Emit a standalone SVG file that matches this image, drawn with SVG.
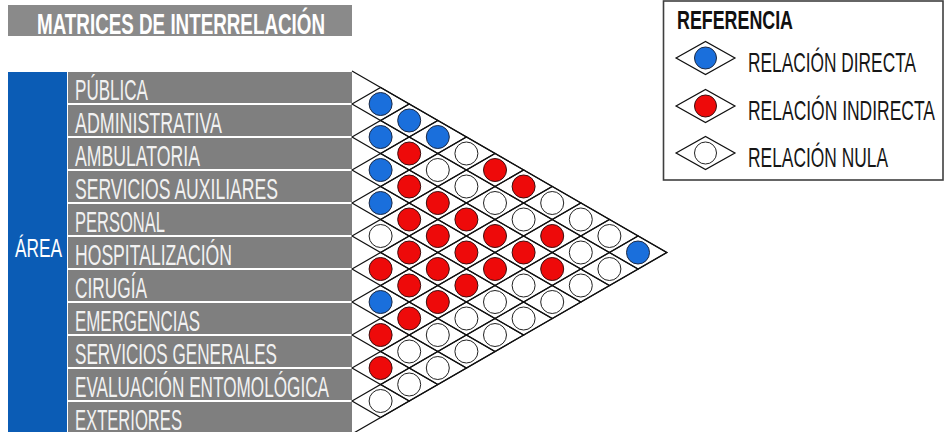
<svg xmlns="http://www.w3.org/2000/svg" xmlns:xlink="http://www.w3.org/1999/xlink" width="945" height="432" viewBox="0 0 945 432">
<style>
text{font-family:"Liberation Sans",Arial,sans-serif}
.row{fill:#7f7f7f}
.lbl{fill:#f2f2f2;font-size:30px}
.leg{fill:#161616;font-size:28px}
.dia{fill:none;stroke:#111;stroke-width:1.2}
.B{fill:#1a6fdc;stroke:#1d2a44;stroke-width:1}
.R{fill:#ee0a0a;stroke:#3a1010;stroke-width:1}
.W{fill:#fff;stroke:#222;stroke-width:1}
</style>
<defs>
<polygon id="d" points="-28.6,0 0,-16.5 28.6,0 0,16.5"/>
</defs>
<rect width="945" height="432" fill="#fff"/>
<g id="title">
<rect x="8" y="5" width="344" height="31" fill="#8a8a8a"/>
<text x="37" y="33.5" font-size="29" font-weight="bold" fill="#fff" textLength="288" lengthAdjust="spacingAndGlyphs">MATRICES DE INTERRELACIÓN</text>
</g>
<g id="area">
<rect x="8" y="72" width="59" height="360" fill="#0b5cb5"/>
<text x="15" y="256.5" font-size="26" fill="#fff" textLength="47" lengthAdjust="spacingAndGlyphs">ÁREA</text>
</g>
<g id="rows">
<g id="r0"><rect class="row" x="68" y="72" width="284" height="31"/><text class="lbl" x="75" y="100" textLength="73" lengthAdjust="spacingAndGlyphs">PÚBLICA</text></g>
<g id="r1"><rect class="row" x="68" y="105" width="284" height="31"/><text class="lbl" x="75" y="133" textLength="147" lengthAdjust="spacingAndGlyphs">ADMINISTRATIVA</text></g>
<g id="r2"><rect class="row" x="68" y="138" width="284" height="31"/><text class="lbl" x="75" y="166" textLength="125" lengthAdjust="spacingAndGlyphs">AMBULATORIA</text></g>
<g id="r3"><rect class="row" x="68" y="171" width="284" height="31"/><text class="lbl" x="75" y="199" textLength="203" lengthAdjust="spacingAndGlyphs">SERVICIOS AUXILIARES</text></g>
<g id="r4"><rect class="row" x="68" y="204" width="284" height="31"/><text class="lbl" x="75" y="232" textLength="90" lengthAdjust="spacingAndGlyphs">PERSONAL</text></g>
<g id="r5"><rect class="row" x="68" y="237" width="284" height="31"/><text class="lbl" x="75" y="265" textLength="157" lengthAdjust="spacingAndGlyphs">HOSPITALIZACIÓN</text></g>
<g id="r6"><rect class="row" x="68" y="270" width="284" height="31"/><text class="lbl" x="75" y="298" textLength="72" lengthAdjust="spacingAndGlyphs">CIRUGÍA</text></g>
<g id="r7"><rect class="row" x="68" y="303" width="284" height="31"/><text class="lbl" x="75" y="331" textLength="125" lengthAdjust="spacingAndGlyphs">EMERGENCIAS</text></g>
<g id="r8"><rect class="row" x="68" y="336" width="284" height="31"/><text class="lbl" x="75" y="364" textLength="202" lengthAdjust="spacingAndGlyphs">SERVICIOS GENERALES</text></g>
<g id="r9"><rect class="row" x="68" y="369" width="284" height="31"/><text class="lbl" x="75" y="397" textLength="254" lengthAdjust="spacingAndGlyphs">EVALUACIÓN ENTOMOLÓGICA</text></g>
<g id="r10"><rect class="row" x="68" y="402" width="284" height="31"/><text class="lbl" x="75" y="430" textLength="107" lengthAdjust="spacingAndGlyphs">EXTERIORES</text></g>
</g>
<g id="connectors">
<polyline class="dia" points="352,71 667,252.5 352,434"/>
<use href="#d" class="dia" x="380.6" y="104"/>
<use href="#d" class="dia" x="409.2" y="120.5"/>
<use href="#d" class="dia" x="380.6" y="137"/><use href="#d" class="dia" x="437.8" y="137"/>
<use href="#d" class="dia" x="409.2" y="153.5"/><use href="#d" class="dia" x="466.4" y="153.5"/>
<use href="#d" class="dia" x="380.6" y="170"/><use href="#d" class="dia" x="437.8" y="170"/><use href="#d" class="dia" x="495" y="170"/>
<use href="#d" class="dia" x="409.2" y="186.5"/><use href="#d" class="dia" x="466.4" y="186.5"/><use href="#d" class="dia" x="523.6" y="186.5"/>
<use href="#d" class="dia" x="380.6" y="203"/><use href="#d" class="dia" x="437.8" y="203"/><use href="#d" class="dia" x="495" y="203"/><use href="#d" class="dia" x="552.2" y="203"/>
<use href="#d" class="dia" x="409.2" y="219.5"/><use href="#d" class="dia" x="466.4" y="219.5"/><use href="#d" class="dia" x="523.6" y="219.5"/><use href="#d" class="dia" x="580.8" y="219.5"/>
<use href="#d" class="dia" x="380.6" y="236"/><use href="#d" class="dia" x="437.8" y="236"/><use href="#d" class="dia" x="495" y="236"/><use href="#d" class="dia" x="552.2" y="236"/><use href="#d" class="dia" x="609.4" y="236"/>
<use href="#d" class="dia" x="409.2" y="252.5"/><use href="#d" class="dia" x="466.4" y="252.5"/><use href="#d" class="dia" x="523.6" y="252.5"/><use href="#d" class="dia" x="580.8" y="252.5"/><use href="#d" class="dia" x="638" y="252.5"/>
<use href="#d" class="dia" x="380.6" y="269"/><use href="#d" class="dia" x="437.8" y="269"/><use href="#d" class="dia" x="495" y="269"/><use href="#d" class="dia" x="552.2" y="269"/><use href="#d" class="dia" x="609.4" y="269"/>
<use href="#d" class="dia" x="409.2" y="285.5"/><use href="#d" class="dia" x="466.4" y="285.5"/><use href="#d" class="dia" x="523.6" y="285.5"/><use href="#d" class="dia" x="580.8" y="285.5"/>
<use href="#d" class="dia" x="380.6" y="302"/><use href="#d" class="dia" x="437.8" y="302"/><use href="#d" class="dia" x="495" y="302"/><use href="#d" class="dia" x="552.2" y="302"/>
<use href="#d" class="dia" x="409.2" y="318.5"/><use href="#d" class="dia" x="466.4" y="318.5"/><use href="#d" class="dia" x="523.6" y="318.5"/>
<use href="#d" class="dia" x="380.6" y="335"/><use href="#d" class="dia" x="437.8" y="335"/><use href="#d" class="dia" x="495" y="335"/>
<use href="#d" class="dia" x="409.2" y="351.5"/><use href="#d" class="dia" x="466.4" y="351.5"/>
<use href="#d" class="dia" x="380.6" y="368"/><use href="#d" class="dia" x="437.8" y="368"/>
<use href="#d" class="dia" x="409.2" y="384.5"/>
<use href="#d" class="dia" x="380.6" y="401"/>
</g>
<g id="cells">
<circle id="c0-1" class="B" cx="380.6" cy="104" r="11.5"/>
<circle id="c0-2" class="B" cx="409.2" cy="120.5" r="11.5"/>
<circle id="c1-2" class="B" cx="380.6" cy="137" r="11.5"/><circle id="c0-3" class="B" cx="437.8" cy="137" r="11.5"/>
<circle id="c1-3" class="R" cx="409.2" cy="153.5" r="11.5"/><circle id="c0-4" class="W" cx="466.4" cy="153.5" r="11.5"/>
<circle id="c2-3" class="B" cx="380.6" cy="170" r="11.5"/><circle id="c1-4" class="W" cx="437.8" cy="170" r="11.5"/><circle id="c0-5" class="R" cx="495" cy="170" r="11.5"/>
<circle id="c2-4" class="R" cx="409.2" cy="186.5" r="11.5"/><circle id="c1-5" class="W" cx="466.4" cy="186.5" r="11.5"/><circle id="c0-6" class="R" cx="523.6" cy="186.5" r="11.5"/>
<circle id="c3-4" class="B" cx="380.6" cy="203" r="11.5"/><circle id="c2-5" class="R" cx="437.8" cy="203" r="11.5"/><circle id="c1-6" class="W" cx="495" cy="203" r="11.5"/><circle id="c0-7" class="W" cx="552.2" cy="203" r="11.5"/>
<circle id="c3-5" class="R" cx="409.2" cy="219.5" r="11.5"/><circle id="c2-6" class="R" cx="466.4" cy="219.5" r="11.5"/><circle id="c1-7" class="W" cx="523.6" cy="219.5" r="11.5"/><circle id="c0-8" class="W" cx="580.8" cy="219.5" r="11.5"/>
<circle id="c4-5" class="W" cx="380.6" cy="236" r="11.5"/><circle id="c3-6" class="R" cx="437.8" cy="236" r="11.5"/><circle id="c2-7" class="R" cx="495" cy="236" r="11.5"/><circle id="c1-8" class="R" cx="552.2" cy="236" r="11.5"/><circle id="c0-9" class="W" cx="609.4" cy="236" r="11.5"/>
<circle id="c4-6" class="R" cx="409.2" cy="252.5" r="11.5"/><circle id="c3-7" class="R" cx="466.4" cy="252.5" r="11.5"/><circle id="c2-8" class="R" cx="523.6" cy="252.5" r="11.5"/><circle id="c1-9" class="W" cx="580.8" cy="252.5" r="11.5"/><circle id="c0-10" class="B" cx="638" cy="252.5" r="11.5"/>
<circle id="c5-6" class="R" cx="380.6" cy="269" r="11.5"/><circle id="c4-7" class="R" cx="437.8" cy="269" r="11.5"/><circle id="c3-8" class="R" cx="495" cy="269" r="11.5"/><circle id="c2-9" class="R" cx="552.2" cy="269" r="11.5"/><circle id="c1-10" class="W" cx="609.4" cy="269" r="11.5"/>
<circle id="c5-7" class="R" cx="409.2" cy="285.5" r="11.5"/><circle id="c4-8" class="R" cx="466.4" cy="285.5" r="11.5"/><circle id="c3-9" class="W" cx="523.6" cy="285.5" r="11.5"/><circle id="c2-10" class="W" cx="580.8" cy="285.5" r="11.5"/>
<circle id="c6-7" class="B" cx="380.6" cy="302" r="11.5"/><circle id="c5-8" class="R" cx="437.8" cy="302" r="11.5"/><circle id="c4-9" class="W" cx="495" cy="302" r="11.5"/><circle id="c3-10" class="W" cx="552.2" cy="302" r="11.5"/>
<circle id="c6-8" class="R" cx="409.2" cy="318.5" r="11.5"/><circle id="c5-9" class="W" cx="466.4" cy="318.5" r="11.5"/><circle id="c4-10" class="W" cx="523.6" cy="318.5" r="11.5"/>
<circle id="c7-8" class="R" cx="380.6" cy="335" r="11.5"/><circle id="c6-9" class="W" cx="437.8" cy="335" r="11.5"/><circle id="c5-10" class="W" cx="495" cy="335" r="11.5"/>
<circle id="c7-9" class="W" cx="409.2" cy="351.5" r="11.5"/><circle id="c6-10" class="W" cx="466.4" cy="351.5" r="11.5"/>
<circle id="c8-9" class="R" cx="380.6" cy="368" r="11.5"/><circle id="c7-10" class="W" cx="437.8" cy="368" r="11.5"/>
<circle id="c8-10" class="W" cx="409.2" cy="384.5" r="11.5"/>
<circle id="c9-10" class="W" cx="380.6" cy="401" r="11.5"/>
</g>
<g id="legend">
<rect x="663.5" y="1" width="279.5" height="179" fill="#fff" stroke="#3f3f3f" stroke-width="1.6"/>
<text x="677" y="29" font-size="26" font-weight="bold" fill="#111" textLength="116" lengthAdjust="spacingAndGlyphs">REFERENCIA</text>
<g id="leg-directa"><use href="#d" class="dia" x="705.5" y="58" transform="translate(705.5 58) scale(1.03 1) translate(-705.5 -58)"/><circle class="B" cx="705.5" cy="58" r="11"/><text class="leg" x="748" y="72" textLength="168" lengthAdjust="spacingAndGlyphs">RELACIÓN DIRECTA</text></g>
<g id="leg-indirecta"><use href="#d" class="dia" x="705.5" y="106" transform="translate(705.5 106) scale(1.03 1) translate(-705.5 -106)"/><circle class="R" cx="705.5" cy="106" r="11"/><text class="leg" x="748" y="120" textLength="187" lengthAdjust="spacingAndGlyphs">RELACIÓN INDIRECTA</text></g>
<g id="leg-nula"><use href="#d" class="dia" x="705.5" y="153" transform="translate(705.5 153) scale(1.03 1) translate(-705.5 -153)"/><circle class="W" cx="705.5" cy="153" r="11"/><text class="leg" x="748" y="167" textLength="140" lengthAdjust="spacingAndGlyphs">RELACIÓN NULA</text></g>
</g>
</svg>
